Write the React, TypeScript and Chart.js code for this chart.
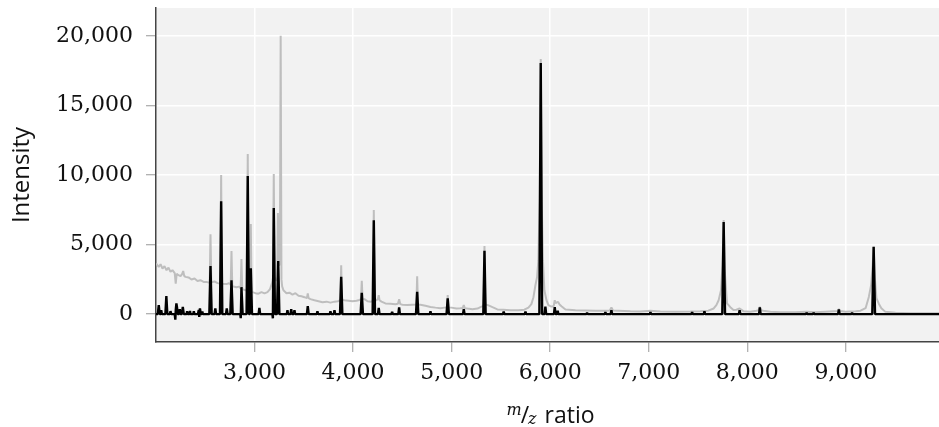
import React, { useEffect, useRef } from "react";
import { Chart, registerables } from "chart.js";

Chart.register(...registerables);

// m/z, intensity pairs
const processedTrace: [number, number][] = [
  [2000, 0], [2018, 0], [2028, 650], [2038, 0], [2048, 0], [2053, 290], [2060, 0],
  [2095, 0], [2105, 1300], [2115, 0], [2140, 0], [2147, 215], [2155, 0],
  [2190, 0], [2196, -400], [2201, 350], [2207, 780], [2213, 500], [2220, 0],
  [2234, 0], [2241, 360], [2248, 0], [2262, 0], [2272, 530], [2282, 0],
  [2310, 0], [2316, 215], [2322, 0], [2340, 0], [2345, 240], [2350, 0],
  [2378, 0], [2384, 215], [2390, 0], [2425, 0], [2434, 300], [2439, -200], [2446, 410], [2455, 0],
  [2465, 0], [2470, 200], [2476, 0],
  [2541, 0], [2553, 3460], [2565, 0], [2594, 0], [2602, 410], [2610, 0],
  [2649, 0], [2661, 8120], [2673, 0], [2710, 0], [2718, 410], [2726, 0],
  [2754, 0], [2766, 2440], [2778, 0], [2855, 0], [2860, -290], [2867, 1940], [2879, 0],
  [2919, 0], [2931, 9920], [2943, 0], [2951, 0], [2962, 3290], [2974, 0],
  [3041, 0], [3049, 450], [3057, 0], [3181, 0], [3186, -300], [3195, 7620], [3207, 0],
  [3228, 0], [3240, 3810], [3252, 0], [3327, 0], [3334, 290], [3340, 0],
  [3365, 0], [3372, 360], [3379, 0], [3398, 0], [3405, 290], [3412, 0],
  [3531, 0], [3540, 575], [3549, 0], [3631, 0], [3638, 215], [3645, 0],
  [3763, 0], [3770, 215], [3777, 0], [3804, 0], [3811, 290], [3818, 0],
  [3867, 0], [3879, 2680], [3891, 0], [4076, 0], [4088, 1530], [4100, 0],
  [4198, 0], [4210, 6750], [4222, 0], [4252, 0], [4260, 450], [4268, 0],
  [4389, 0], [4396, 165], [4403, 0], [4459, 0], [4467, 480], [4475, 0],
  [4638, 0], [4650, 1600], [4662, 0], [4778, 0], [4785, 215], [4792, 0],
  [4948, 0], [4960, 1130], [4972, 0], [5115, 0], [5123, 360], [5131, 0],
  [5321, 0], [5333, 4550], [5345, 0], [5521, 0], [5528, 180], [5535, 0],
  [5742, 0], [5749, 180], [5756, 0], [5890, 0], [5904, 18040], [5918, 0],
  [5943, 0], [5951, 540], [5959, 0], [6038, 0], [6046, 500], [6054, 0],
  [6069, 0], [6076, 240], [6083, 0], [6367, 0], [6374, 110], [6381, 0],
  [6553, 0], [6560, 145], [6567, 0], [6613, 0], [6621, 290], [6629, 0],
  [7010, 0], [7017, 145], [7024, 0], [7433, 0], [7440, 145], [7447, 0],
  [7558, 0], [7565, 215], [7572, 0], [7746, 0], [7760, 6630], [7774, 0],
  [7914, 0], [7922, 290], [7930, 0], [8119, 0], [8127, 480], [8135, 0],
  [8595, 0], [8602, 110], [8609, 0], [8666, 0], [8673, 110], [8680, 0],
  [8921, 0], [8929, 340], [8937, 0], [9056, 0], [9063, 110], [9070, 0],
  [9268, 0], [9282, 4840], [9296, 0], [9950, 0],
];

const rawTrace: [number, number][] = [
  [2000, 3640], [2028, 3400], [2046, 3590], [2066, 3280], [2086, 3450], [2107, 3160],
  [2127, 3350], [2147, 3040], [2167, 3160], [2190, 2950], [2200, 2200], [2210, 2900],
  [2228, 2800], [2249, 2730], [2266, 2900], [2276, 3100], [2286, 2750], [2299, 2680],
  [2330, 2640], [2360, 2490], [2391, 2560], [2421, 2390], [2451, 2440], [2482, 2320],
  [2512, 2320], [2545, 2250], [2553, 5750], [2561, 2300], [2594, 2350], [2624, 2230],
  [2653, 2200], [2661, 10000], [2669, 2190], [2716, 2160], [2741, 2230], [2758, 2100],
  [2766, 4530], [2774, 2010], [2817, 1940], [2842, 1980], [2859, 1850], [2867, 3960],
  [2875, 1800], [2908, 1720], [2923, 1700], [2931, 11500], [2939, 1700], [2954, 1650],
  [2962, 6470], [2970, 1600], [3009, 1510], [3040, 1470], [3070, 1580], [3101, 1490],
  [3131, 1580], [3157, 1800], [3177, 2230], [3187, 2600], [3195, 10070], [3203, 2700],
  [3220, 2400], [3230, 2500], [3237, 7260], [3248, 3500], [3257, 3600], [3265, 20000],
  [3273, 2500], [3280, 2000], [3293, 1720], [3324, 1510], [3354, 1545], [3385, 1400],
  [3415, 1510], [3446, 1330], [3476, 1290], [3507, 1220], [3532, 1150], [3540, 1500],
  [3548, 1150], [3567, 1080], [3608, 1000], [3649, 930], [3689, 860], [3730, 900],
  [3770, 830], [3811, 900], [3846, 930], [3871, 1000], [3879, 3520], [3887, 1050],
  [3912, 1000], [3953, 970], [3994, 930], [4034, 970], [4065, 1020], [4080, 1080],
  [4088, 2400], [4096, 1100], [4115, 1080], [4146, 930], [4181, 900], [4202, 950],
  [4210, 7480], [4218, 1000], [4237, 1000], [4252, 1100], [4260, 1370], [4268, 1000],
  [4288, 900], [4328, 770], [4379, 750], [4429, 720], [4455, 750], [4467, 1080],
  [4479, 720], [4501, 680], [4552, 650], [4602, 680], [4642, 700], [4650, 2730],
  [4658, 700], [4683, 680], [4734, 610], [4785, 520], [4836, 470], [4886, 430],
  [4927, 470], [4952, 480], [4960, 1370], [4968, 480], [4998, 470], [5049, 410],
  [5089, 430], [5113, 450], [5123, 650], [5133, 430], [5160, 400], [5211, 360],
  [5262, 400], [5297, 520], [5325, 600], [5333, 4890], [5341, 700], [5368, 650],
  [5414, 500], [5464, 340], [5525, 320], [5596, 290], [5677, 290], [5738, 320],
  [5779, 470], [5809, 720], [5830, 1220], [5850, 2080], [5867, 2680], [5880, 3880],
  [5893, 8200], [5904, 18340], [5914, 8000], [5926, 3880], [5941, 1720], [5962, 1000],
  [5982, 650], [6002, 575], [6022, 540], [6036, 600], [6046, 1000], [6056, 790],
  [6066, 850], [6080, 880], [6095, 700], [6114, 575], [6155, 340], [6256, 290],
  [6358, 270], [6459, 250], [6560, 250], [6605, 260], [6621, 480], [6637, 260],
  [6692, 250], [6814, 215], [6915, 200], [7017, 250], [7118, 195], [7270, 180],
  [7422, 195], [7523, 215], [7604, 250], [7659, 410], [7686, 650], [7709, 1000],
  [7733, 1720], [7748, 3500], [7760, 6760], [7772, 3000], [7794, 770], [7828, 500],
  [7862, 290], [7889, 320], [7922, 410], [7960, 215], [8031, 180], [8092, 250],
  [8115, 280], [8127, 520], [8139, 280], [8163, 250], [8234, 180], [8336, 145],
  [8488, 145], [8600, 180], [8691, 145], [8793, 180], [8915, 220], [8929, 360],
  [8943, 220], [8996, 180], [9098, 215], [9149, 250], [9200, 430], [9233, 1240],
  [9256, 2080], [9272, 3500], [9282, 4840], [9294, 2600], [9310, 1150], [9333, 770],
  [9360, 430], [9401, 165], [9503, 110], [9655, 70], [9807, 70], [9950, 70],
];

const xTickValues = [3000, 4000, 5000, 6000, 7000, 8000, 9000];
const yTickValues = [0, 5000, 10000, 15000, 20000];

const X_MIN = 2000;
const X_MAX = 9945;
const Y_MIN = -2000;
const Y_MAX = 22000;

const fmt = (v: number) => Number(v).toLocaleString("en-US");

const panelBg = {
  id: "panelBg",
  beforeDraw(chart: any) {
    const { ctx, chartArea } = chart;
    if (!chartArea) return;
    ctx.save();
    ctx.fillStyle = "#f2f2f2";
    ctx.fillRect(chartArea.left, chartArea.top, chartArea.right - chartArea.left, chartArea.bottom - chartArea.top);
    ctx.restore();
  },
};

const xTitle = {
  id: "xTitle",
  afterDraw(chart: any) {
    const { ctx, chartArea } = chart;
    const center = (chartArea.left + chartArea.right) / 2 + 3;
    const fItal = 'italic 16px "DejaVu Serif"';
    const fSans = '23px "Open Sans"';
    ctx.save();
    ctx.fillStyle = "#111";
    ctx.textBaseline = "alphabetic";
    ctx.textAlign = "left";
    ctx.font = fItal;
    const wm = ctx.measureText("m").width;
    const wz = ctx.measureText("z").width;
    ctx.font = fSans;
    const ws = ctx.measureText("/").width;
    const wr = ctx.measureText("ratio").width;
    const gap = 8;
    const total = wm - 1 + ws - 1 + wz + gap + wr;
    let x = center - total / 2;
    const base = 423;
    ctx.font = fItal;
    ctx.fillText("m", x, base - 8);
    x += wm - 1;
    ctx.font = fSans;
    ctx.fillText("/", x, base);
    x += ws - 1;
    ctx.font = fItal;
    ctx.fillText("z", x, base + 1);
    x += wz + gap;
    ctx.font = fSans;
    ctx.fillText("ratio", x, base);
    ctx.restore();
  },
};

export default function App() {
  const ref = useRef<HTMLCanvasElement | null>(null);
  useEffect(() => {
    if (!ref.current) return;
    const chart = new Chart(ref.current, {
      type: "line",
      data: {
        datasets: [
          {
            label: "processed",
            data: processedTrace.map(([x, y]) => ({ x, y })),
            borderColor: "#000000",
            borderWidth: 2.4,
            borderJoinStyle: "bevel",
            borderDash: [100000, 0],
            pointRadius: 0,
            tension: 0,
            fill: false,
          },
          {
            label: "raw",
            data: rawTrace.map(([x, y]) => ({ x, y })),
            borderColor: "rgb(190,190,190)",
            borderWidth: 2,
            borderJoinStyle: "bevel",
            borderDash: [100000, 0],
            pointRadius: 0,
            tension: 0,
            fill: false,
          },
        ],
      },
      plugins: [panelBg, xTitle],
      options: {
        animation: false,
        responsive: false,
        devicePixelRatio: 1,
        parsing: false,
        normalized: true,
        events: [],
        layout: { padding: { top: 8, right: 0, left: 0, bottom: 0 } },
        plugins: { legend: { display: false }, tooltip: { enabled: false }, title: { display: false } },
        scales: {
          x: {
            type: "linear",
            min: X_MIN,
            max: X_MAX,
            afterBuildTicks: (axis: any) => {
              axis.ticks = xTickValues.map((v) => ({ value: v }));
            },
            afterFit: (axis: any) => {
              axis.height = 85;
              axis.paddingLeft = 0;
              axis.paddingRight = 0;
            },
            ticks: {
              callback: (v: any) => fmt(v),
              font: { family: '"DejaVu Serif"', size: 22 },
              color: "#111",
              padding: 8,
              maxRotation: 0,
              autoSkip: false,
            },
            grid: {
              color: "#ffffff",
              lineWidth: 1.5,
              tickColor: "#999999",
              tickLength: 10,
              tickWidth: 1,
            },
            border: { display: true, color: "#444444", width: 1.5 },
            title: { display: false },
          },
          y: {
            type: "linear",
            min: Y_MIN,
            max: Y_MAX,
            afterBuildTicks: (axis: any) => {
              axis.ticks = yTickValues.map((v) => ({ value: v }));
            },
            afterFit: (axis: any) => {
              axis.width = 156;
              axis.paddingTop = 0;
              axis.paddingBottom = 0;
            },
            ticks: {
              callback: (v: any) => fmt(v),
              font: { family: '"DejaVu Serif"', size: 22 },
              color: "#111",
              padding: 13,
              autoSkip: false,
            },
            grid: {
              color: "#ffffff",
              lineWidth: 1.5,
              tickColor: "#999999",
              tickLength: 10,
              tickWidth: 1,
            },
            border: { display: true, color: "#444444", width: 1.5 },
            title: {
              display: true,
              text: "Intensity",
              font: { family: '"Open Sans"', size: 24 },
              color: "#111",
              padding: { top: 8, bottom: 0 },
            },
          },
        },
      },
    });
    return () => chart.destroy();
  }, []);
  return (
    <div style={{ position: "fixed", left: 0, top: 0, width: 939, height: 427, background: "#fff" }}>
      <canvas ref={ref} width={939} height={427} style={{ display: "block", width: 939, height: 427 }} />
    </div>
  );
}
